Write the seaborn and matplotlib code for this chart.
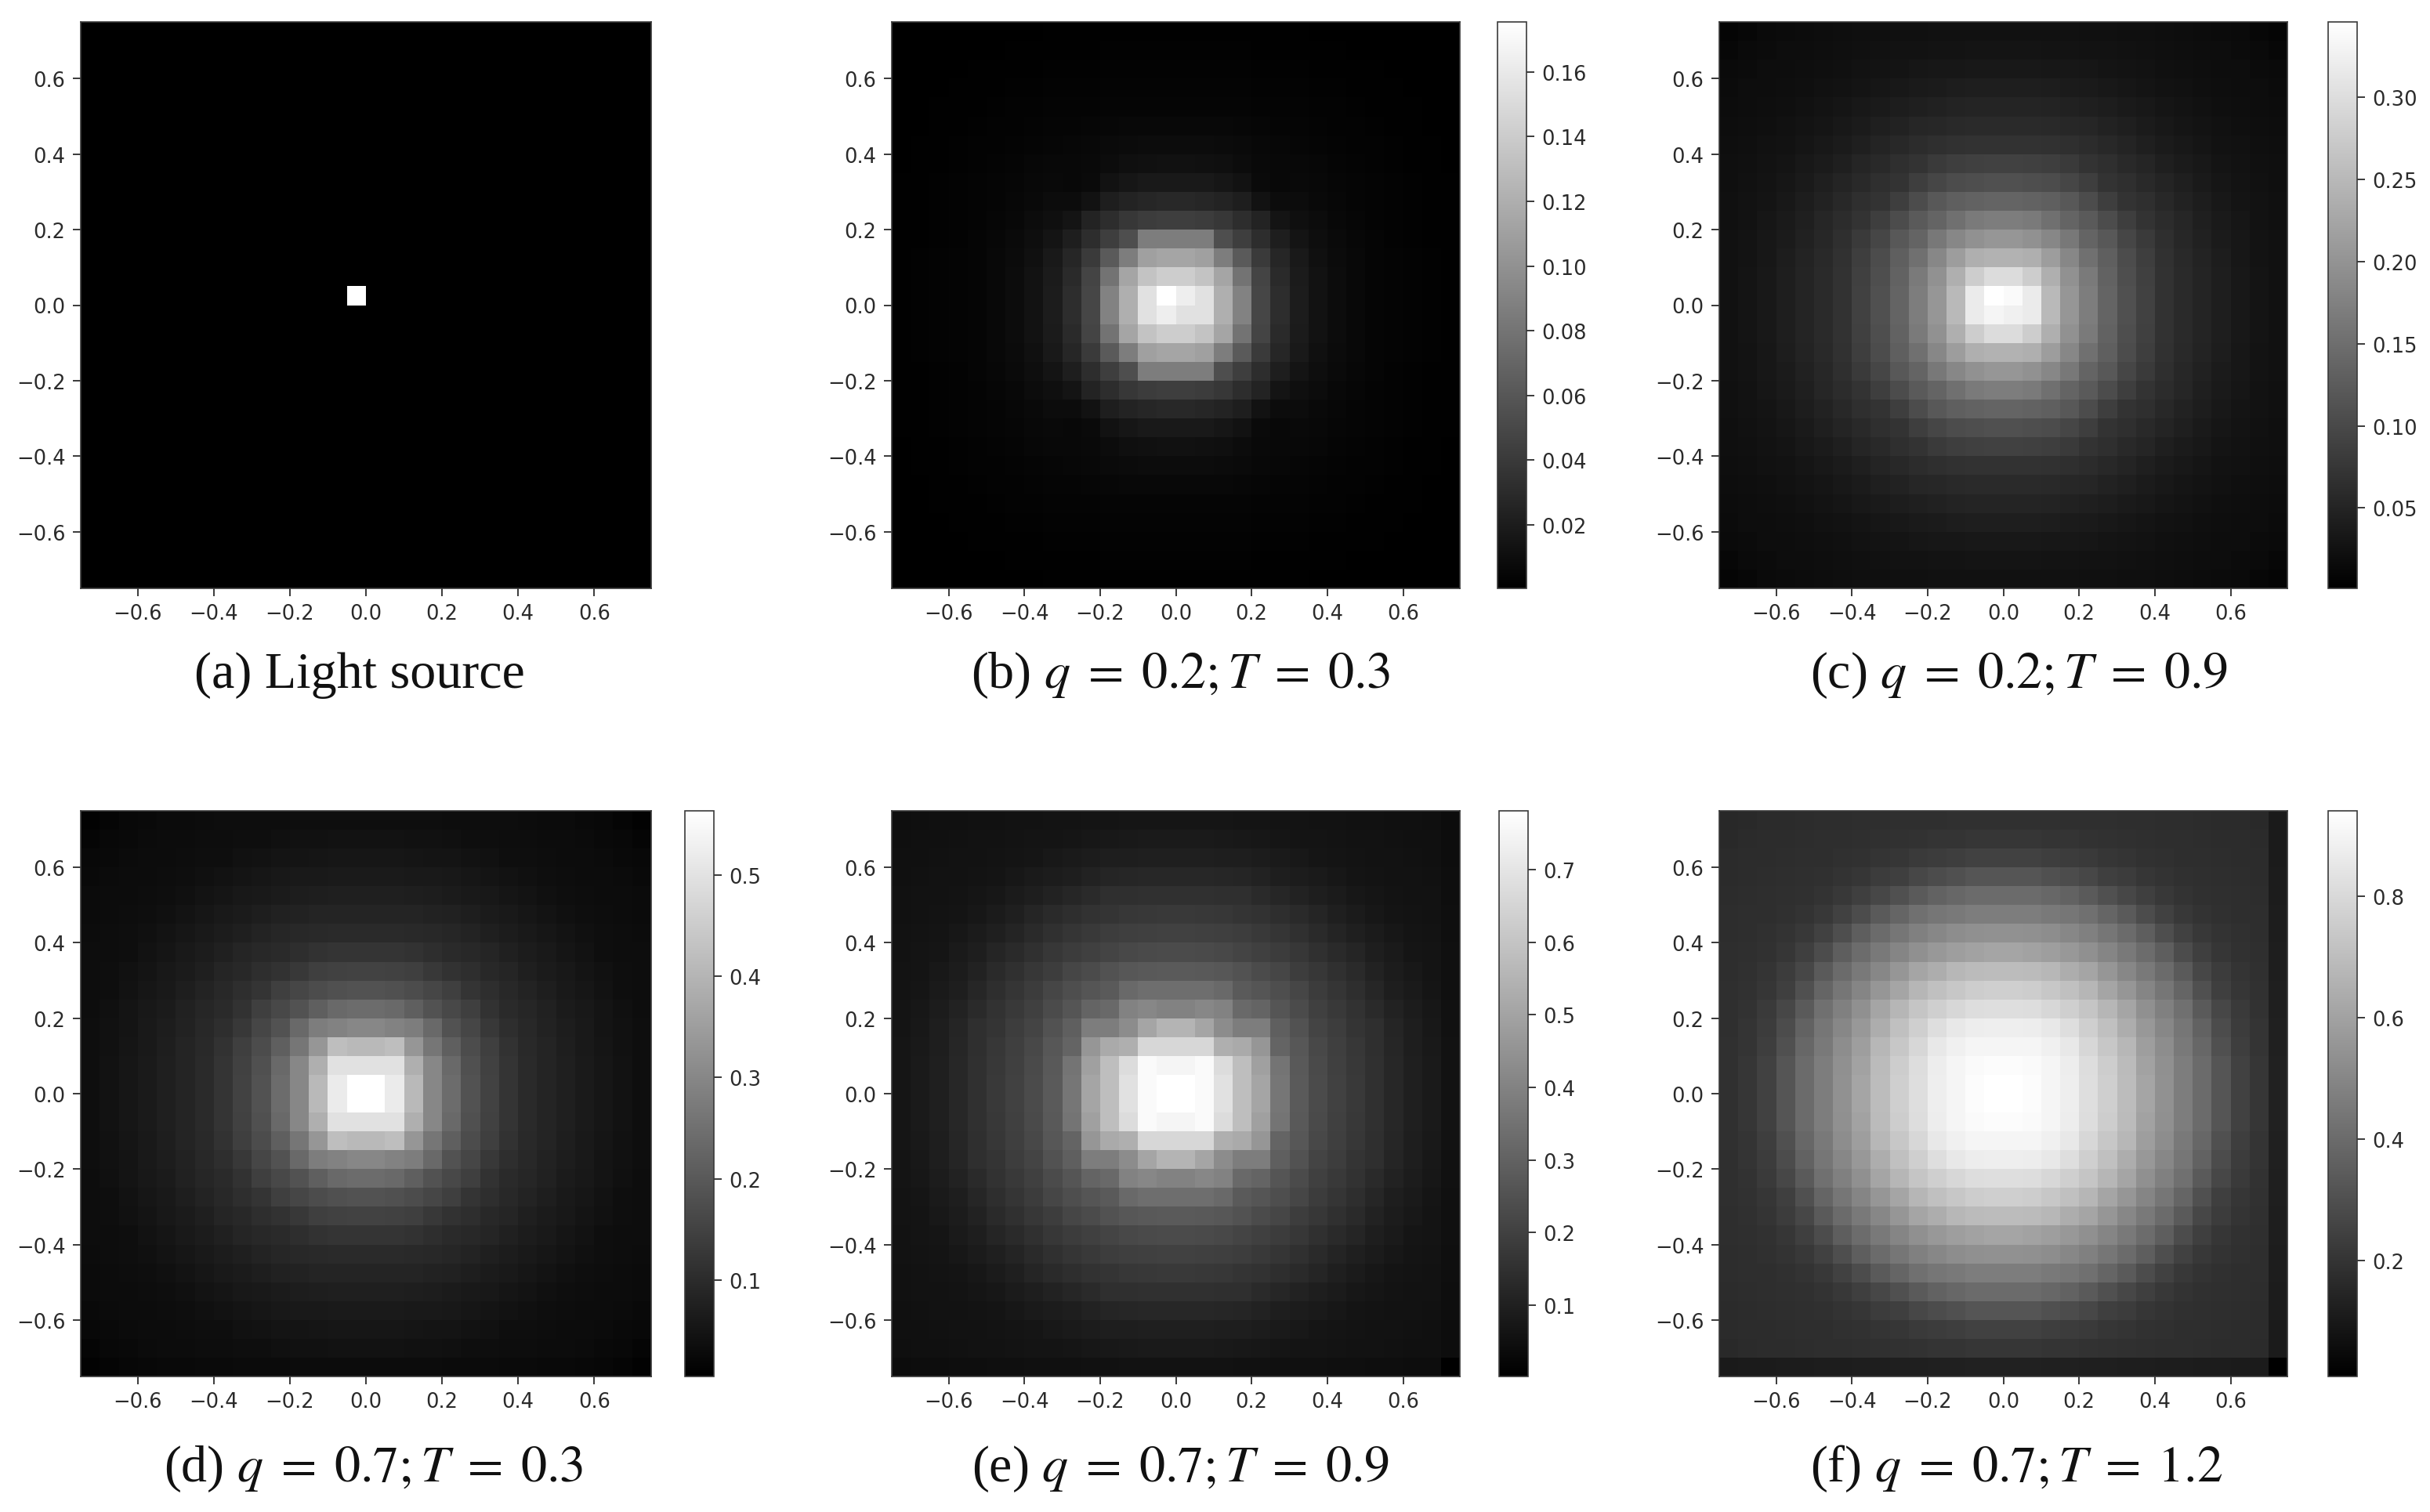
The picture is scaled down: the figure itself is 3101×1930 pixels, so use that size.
import numpy as np
import matplotlib
matplotlib.use("Agg")
import matplotlib.pyplot as plt
import seaborn as sns

# Axis ticks shared by all the panels
axis_ticks = [-0.6, -0.4, -0.2, 0.0, 0.2, 0.4, 0.6]
axis_tick_labels = ["\u22120.6", "\u22120.4", "\u22120.2", "0.0", "0.2", "0.4", "0.6"]

captions = {
    "a": "(a) Light source",
    "b": r"(b) $q\;=\;0.2;T\;=\;0.3$",
    "c": r"(c) $q\;=\;0.2;T\;=\;0.9$",
    "d": r"(d) $q\;=\;0.7;T\;=\;0.3$",
    "e": r"(e) $q\;=\;0.7;T\;=\;0.9$",
    "f": r"(f) $q\;=\;0.7;T\;=\;1.2$",
}

# Colour ranges and colourbar ticks
range_b = (0.0003, 0.1755)
range_c = (0.001, 0.346)
range_d = (0.005, 0.563)
range_e = (0.002, 0.781)
range_f = (0.009, 0.94)
ticks_b = [0.02, 0.04, 0.06, 0.08, 0.10, 0.12, 0.14, 0.16]
ticks_c = [0.05, 0.10, 0.15, 0.20, 0.25, 0.30]
ticks_d = [0.1, 0.2, 0.3, 0.4, 0.5]
ticks_e = [0.1, 0.2, 0.3, 0.4, 0.5, 0.6, 0.7]
ticks_f = [0.2, 0.4, 0.6, 0.8]
labels_b = ["0.02", "0.04", "0.06", "0.08", "0.10", "0.12", "0.14", "0.16"]
labels_c = ["0.05", "0.10", "0.15", "0.20", "0.25", "0.30"]
labels_d = ["0.1", "0.2", "0.3", "0.4", "0.5"]
labels_e = ["0.1", "0.2", "0.3", "0.4", "0.5", "0.6", "0.7"]
labels_f = ["0.2", "0.4", "0.6", "0.8"]

# Upper-left quadrant of each 30x30 image, as grey levels (0-255).
quadrant_b = [
    [0,0,0,0,0,0,0,0,1,1,1,1,1,1,1],
    [0,0,0,0,0,0,1,1,1,1,1,2,2,2,2],
    [0,0,0,0,1,1,1,1,2,2,2,3,3,3,3],
    [0,0,0,1,1,1,2,2,3,3,3,4,4,4,4],
    [0,0,1,1,1,2,3,3,4,4,4,5,5,5,5],
    [0,0,1,1,2,3,3,4,5,5,6,7,8,8,8],
    [0,1,1,2,3,3,4,5,6,7,8,10,11,12,12],
    [0,1,1,2,3,4,5,7,8,8,9,12,15,16,17],
    [1,1,2,3,4,5,6,8,9,8,10,18,22,25,25],
    [1,1,2,3,4,5,7,9,12,12,18,30,35,38,40],
    [1,1,2,3,4,6,8,12,15,20,35,45,55,60,62],
    [1,1,2,3,5,7,10,14,20,30,45,62,78,125,125],
    [1,2,3,4,5,8,11,16,25,38,58,90,125,160,165],
    [1,2,3,4,5,8,12,18,27,42,68,115,165,195,205],
    [1,2,3,4,5,8,12,18,28,45,70,130,175,225,255],
]
quadrant_c = [
    [5,7,10,11,12,13,14,15,15,16,16,17,17,17,17],
    [7,10,11,13,13,14,15,16,17,18,18,19,19,20,20],
    [10,11,13,13,14,15,16,18,19,20,22,23,23,24,24],
    [11,13,13,14,15,17,18,20,22,24,26,27,29,30,30],
    [12,13,14,15,17,19,21,24,26,29,31,33,35,36,36],
    [13,14,15,17,19,21,24,27,31,34,38,39,41,42,42],
    [14,15,17,18,21,24,27,31,36,40,44,47,49,50,50],
    [15,16,18,20,24,27,31,37,41,47,51,58,62,64,65],
    [15,17,19,22,26,31,36,41,47,51,62,70,76,78,80],
    [16,18,20,24,29,34,40,47,51,62,76,88,95,98,100],
    [16,18,22,26,31,38,44,51,62,76,90,100,112,122,125],
    [17,19,23,27,33,39,47,58,70,88,100,120,135,145,150],
    [17,19,23,29,35,41,49,62,76,95,112,135,157,175,178],
    [17,20,24,30,36,42,50,64,78,98,122,145,175,205,220],
    [17,20,24,30,36,42,50,65,80,100,125,150,185,235,255],
]
quadrant_d = [
    [2,5,8,9,11,11,12,13,13,13,13,14,14,14,14],
    [5,8,9,11,12,12,13,13,14,14,16,17,17,18,18],
    [8,9,11,12,12,13,14,14,17,18,20,20,21,22,22],
    [9,11,12,12,13,14,16,18,20,22,24,25,25,26,26],
    [11,12,12,13,14,16,19,21,24,25,27,29,30,31,31],
    [11,12,13,14,16,19,22,25,27,30,33,34,36,36,36],
    [12,13,14,16,19,22,25,28,31,35,38,40,41,42,42],
    [13,13,14,18,21,25,28,32,37,40,42,46,50,52,52],
    [13,14,17,20,24,27,31,37,40,46,50,56,63,65,66],
    [13,14,18,22,25,30,35,40,46,52,63,70,76,80,82],
    [13,16,20,24,27,33,38,42,50,63,72,82,95,105,108],
    [14,17,20,25,29,34,40,46,56,70,82,105,125,130,135],
    [14,17,21,25,30,36,41,50,63,76,95,118,150,190,185],
    [14,18,22,26,31,36,42,52,65,80,105,135,175,225,225],
    [14,18,22,26,31,36,42,52,66,82,108,135,185,235,255],
]
quadrant_e = [
    [14,15,16,16,17,17,18,18,19,19,20,20,21,21,21],
    [15,16,16,17,18,18,19,20,20,21,23,24,25,26,26],
    [16,16,17,18,18,19,20,21,24,26,28,30,30,31,31],
    [16,17,18,18,19,20,23,26,28,30,34,37,38,39,39],
    [17,18,18,19,21,23,27,30,34,38,42,47,47,48,48],
    [17,18,19,20,23,27,31,37,42,46,50,52,55,56,57],
    [18,19,20,23,27,31,36,42,48,53,57,61,63,64,65],
    [18,20,21,26,30,37,42,48,55,60,64,68,72,74,75],
    [19,20,24,28,34,42,48,55,61,70,75,82,87,89,90],
    [19,21,26,30,38,46,53,60,70,78,85,90,105,110,110],
    [20,23,28,34,42,50,57,64,75,85,100,105,130,135,130],
    [20,24,30,37,47,52,61,68,82,95,125,125,140,165,180],
    [21,25,30,38,47,55,63,72,87,100,150,170,175,215,215],
    [21,26,31,39,48,56,64,74,89,116,160,190,220,250,245],
    [21,26,31,39,48,57,65,75,90,118,165,190,225,250,255],
]
quadrant_f = [
    [40,41,43,43,44,45,45,46,46,47,47,47,48,48,48],
    [41,43,44,44,45,46,46,47,48,49,50,52,52,54,54],
    [43,44,44,45,46,46,48,49,52,54,58,60,62,65,65],
    [43,44,45,46,47,48,51,54,60,63,71,76,80,85,85],
    [44,45,46,47,48,51,56,63,71,80,90,98,103,107,107],
    [45,46,46,48,51,56,65,76,90,101,112,118,121,125,125],
    [45,46,48,51,56,65,78,94,107,118,128,135,141,144,145],
    [46,47,49,54,63,76,94,108,121,133,144,152,158,162,165],
    [46,48,52,60,71,90,107,121,135,150,165,173,183,187,188],
    [47,49,54,63,80,101,118,133,150,165,182,192,199,205,207],
    [47,50,58,71,90,112,128,144,165,182,197,207,215,221,222],
    [47,52,60,76,98,118,135,152,173,192,207,222,232,237,238],
    [48,52,62,80,103,121,141,158,183,199,215,232,240,245,245],
    [48,54,65,85,107,125,144,162,187,205,221,237,245,250,252],
    [48,54,65,85,107,125,145,165,188,207,222,238,245,252,255],
]

# The four centre cells of each image (grey levels), which are not mirror images
center_b = [[255, 238], [238, 225]]
center_c = [[255, 250], [245, 240]]

# Darker last column and last row seen in panels e and f (grey levels)
e_edge_level = [12,13,13,14,14,15,15,16,16,16,17,17,18,18,18]
f_edge_level = [26,27,27,28,28,29,29,30,30,31,31,32,32,33,33]
d_bottom_level = [2,5,7,8,9,9,10,10,11,11,11,12,12,12,12]


def full_image(quadrant):
    q = np.array(quadrant, dtype=float)
    top = np.hstack([q, q[:, ::-1]])
    return np.vstack([top, top[::-1, :]])


def to_values(levels, value_range):
    lo, hi = value_range
    return lo + levels / 255.0 * (hi - lo)


img_a = np.zeros((30, 30))
img_a[14, 14] = 1.0

lev_b = full_image(quadrant_b)
lev_b[14:16, 14:16] = center_b
lev_c = full_image(quadrant_c)
lev_c[14:16, 14:16] = center_c
lev_d = full_image(quadrant_d)
lev_d[-1, :] = d_bottom_level + d_bottom_level[::-1]
lev_e = full_image(quadrant_e)
lev_e[:, -1] = e_edge_level + e_edge_level[::-1]
lev_e[-1, :] = e_edge_level + e_edge_level[::-1]
lev_e[-1, -1] = 0
lev_f = full_image(quadrant_f)
lev_f[:, -1] = f_edge_level + f_edge_level[::-1]
lev_f[-1, :] = f_edge_level + f_edge_level[::-1]
lev_f[-1, -1] = 0

sns.set_style("white")
plt.rcParams["font.family"] = ["DejaVu Sans"]
plt.rcParams["mathtext.fontset"] = "stix"

W, H = 3101, 1931
fig = plt.figure(figsize=(W / 100, H / 100), dpi=100, facecolor="white")
INK = "#2a2a2a"


def px_axes(x0, y0, x1, y1):
    return fig.add_axes([x0 / W, 1 - y1 / H, (x1 - x0) / W, (y1 - y0) / H])


panels = [
    # image, range, ticks, labels, (axes px), (colourbar px), caption key, caption centre
    (img_a, (0, 1), None, None, (103, 29, 831, 752), None, "a", (459, 862)),
    (to_values(lev_b, range_b), range_b, ticks_b, labels_b, (1138, 29, 1863, 752), (1911, 29, 1948, 752), "b", (1507, 862)),
    (to_values(lev_c, range_c), range_c, ticks_c, labels_c, (2194, 29, 2919, 752), (2971, 29, 3008, 752), "c", (2577, 862)),
    (to_values(lev_d, range_d), range_d, ticks_d, labels_d, (103, 1036, 831, 1758), (874, 1036, 911, 1758), "d", (477, 1875)),
    (to_values(lev_e, range_e), range_e, ticks_e, labels_e, (1138, 1036, 1863, 1758), (1913, 1036, 1950, 1758), "e", (1507, 1875)),
    (to_values(lev_f, range_f), range_f, ticks_f, labels_f, (2194, 1036, 2919, 1758), (2971, 1036, 3008, 1758), "f", (2573, 1875)),
]

for image, (vmin, vmax), cticks, clabels, ax_px, cax_px, key, cap in panels:
    ax = px_axes(*ax_px)
    cax = px_axes(*cax_px) if cax_px else None
    sns.heatmap(image, ax=ax, cmap="gray", vmin=vmin, vmax=vmax, cbar=cax is not None,
                cbar_ax=cax, xticklabels=False, yticklabels=False, linewidths=0)
    n = image.shape[0]
    ax.set_xticks([(t + 0.75) / 1.5 * n for t in axis_ticks])
    ax.set_xticklabels(axis_tick_labels, rotation=0)
    ax.set_yticks([(0.75 - t) / 1.5 * n for t in axis_ticks])
    ax.set_yticklabels(axis_tick_labels, rotation=0)
    ax.tick_params(axis="both", length=7, width=1.3, labelsize=18.5, colors=INK, pad=7,
                   left=True, bottom=True)
    for s in ax.spines.values():
        s.set_visible(True)
        s.set_linewidth(1.2)
        s.set_edgecolor("#3a3a3a")
    if cax is not None:
        cb = ax.collections[0].colorbar
        cb.set_ticks(cticks)
        cb.set_ticklabels(clabels)
        cb.ax.tick_params(length=7, width=1.3, labelsize=18.5, colors=INK, pad=7)
        cb.outline.set_visible(True)
        cb.outline.set_linewidth(1.2)
        cb.outline.set_edgecolor("#3a3a3a")
    fig.text(cap[0] / W, 1 - cap[1] / H, captions[key], ha="center", va="center",
             fontsize=47.5, color="#111111", family="Liberation Serif")

fig.savefig("out.png", dpi=100, facecolor="white")
